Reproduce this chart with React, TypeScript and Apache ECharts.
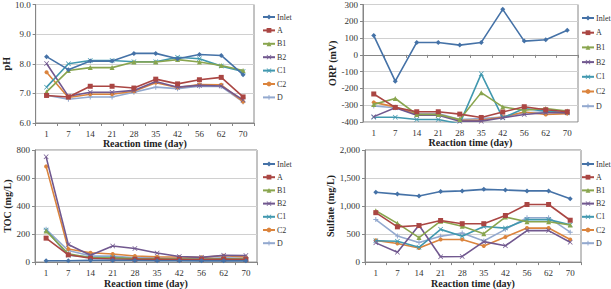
import React, { useEffect, useRef } from "react";
import * as echarts from "echarts";

// Sampling days shared by all four panels
const days = ["1", "7", "14", "21", "28", "35", "42", "56", "62", "70"];
const seriesNames = ["Inlet", "A", "B1", "B2", "C1", "C2", "D"];

// pH
const phInlet = [8.24, 7.8, 8.09, 8.09, 8.35, 8.35, 8.17, 8.31, 8.28, 7.63];
const phA = [6.93, 6.88, 7.24, 7.24, 7.18, 7.48, 7.32, 7.46, 7.54, 6.88];
const phB1 = [7.05, 7.77, 7.87, 7.87, 8.06, 8.06, 8.14, 8.06, 7.94, 7.77];
const phB2 = [8.01, 6.9, 7.04, 7.04, 7.1, 7.4, 7.21, 7.27, 7.25, 6.78];
const phC1 = [7.21, 8.0, 8.11, 8.11, 8.07, 8.07, 8.22, 8.17, 7.92, 7.74];
const phC2 = [7.71, 6.86, 6.97, 6.97, 7.07, 7.36, 7.2, 7.3, 7.29, 6.72];
const phD = [6.94, 6.8, 6.88, 6.88, 7.04, 7.21, 7.16, 7.24, 7.23, 6.71];

// ORP (mV)
const orpInlet = [115, -157, 74, 74, 58, 74, 271, 82, 90, 147];
const orpA = [-233, -313, -339, -339, -353, -373, -341, -309, -327, -339];
const orpB1 = [-295, -260, -355, -355, -385, -225, -310, -330, -320, -335];
const orpB2 = [-368, -315, -360, -360, -395, -395, -375, -355, -345, -345];
const orpC1 = [-372, -372, -385, -385, -410, -113, -375, -320, -335, -345];
const orpC2 = [-283, -310, -355, -355, -390, -390, -370, -340, -355, -350];
const orpD = [-305, -315, -350, -350, -385, -380, -370, -345, -340, -345];

// TOC (mg/L)
const tocInlet = [10, 10, 12, 12, 11, 10, 10, 9, 10, 9];
const tocA = [171, 52, 27, 22, 20, 20, 19, 18, 20, 18];
const tocB1 = [222, 60, 31, 30, 25, 24, 22, 20, 24, 22];
const tocB2 = [751, 126, 49, 115, 97, 65, 40, 34, 49, 47];
const tocC1 = [229, 49, 36, 34, 22, 20, 20, 18, 22, 20];
const tocC2 = [683, 94, 67, 58, 43, 38, 36, 34, 45, 36];
const tocD = [234, 83, 45, 43, 31, 31, 27, 25, 31, 27];

// Sulfate (mg/L)
const so4Inlet = [1247, 1213, 1180, 1258, 1270, 1298, 1286, 1270, 1270, 1129];
const so4A = [882, 629, 652, 742, 685, 685, 831, 1028, 1028, 747];
const so4B1 = [916, 691, 438, 730, 640, 506, 803, 719, 719, 663];
const so4B2 = [343, 174, 657, 96, 101, 365, 292, 562, 562, 354];
const so4C1 = [382, 371, 264, 584, 461, 635, 607, 758, 758, 668];
const so4C2 = [388, 331, 253, 404, 404, 287, 449, 607, 607, 404];
const so4D = [758, 466, 348, 461, 517, 376, 584, 792, 792, 534];

const colors = ["#4572A7", "#AA4643", "#89A54E", "#71588F", "#4198AF", "#DB843D", "#93A9CF"];
const crossMark = "path://M1,0L5,4L9,0L10,1L6,5L10,9L9,10L5,6L1,10L0,9L4,5L0,1Z";
const plusMark = "path://M4,0H6V4H10V6H6V10H4V6H0V4H4Z";
const symbols = ["diamond", "rect", "triangle", crossMark, crossMark, "circle", plusMark];

const FONT = "Liberation Serif";

const panels = [
  {
    name: "pH",
    data: [phInlet, phA, phB1, phB2, phC1, phC2, phD],
    min: 6, max: 10, interval: 1,
    fmt: (v: number) => v.toFixed(1),
    grid: { left: 34, top: 3, width: 220, height: 120 },
    legend: { left: 262, top: 12 },
    legendGap: 3.4,
    nameGap: 22,
  },
  {
    name: "ORP (mV)",
    data: [orpInlet, orpA, orpB1, orpB2, orpC1, orpC2, orpD],
    min: -400, max: 300, interval: 100,
    fmt: (v: number) => String(v),
    grid: { left: 363, top: 4, width: 215, height: 118 },
    legend: { left: 581, top: 13 },
    legendGap: 4.7,
    nameGap: 22,
  },
  {
    name: "TOC (mg/L)",
    data: [tocInlet, tocA, tocB1, tocB2, tocC1, tocC2, tocD],
    min: 0, max: 800, interval: 200,
    fmt: (v: number) => String(v),
    grid: { left: 35, top: 150, width: 222, height: 118 },
    legend: { left: 262, top: 159 },
    legendGap: 3.2,
    nameGap: 22,
  },
  {
    name: "Sulfate (mg/L)",
    data: [so4Inlet, so4A, so4B1, so4B2, so4C1, so4C2, so4D],
    min: 0, max: 2000, interval: 500,
    fmt: (v: number) => v.toLocaleString("en-US"),
    grid: { left: 365, top: 150, width: 216, height: 118 },
    legend: { left: 581, top: 159 },
    legendGap: 3.2,
    nameGap: 26,
  },
];

export default function App() {
  const ref = useRef<HTMLDivElement>(null);

  useEffect(() => {
    if (!ref.current) return;
    const chart = echarts.init(ref.current, null, { renderer: "svg" });

    const grid: any[] = [];
    const xAxis: any[] = [];
    const yAxis: any[] = [];
    const legend: any[] = [];
    const series: any[] = [];

    panels.forEach((p, i) => {
      grid.push({
        ...p.grid,
        show: true,
        borderColor: "#868686",
        borderWidth: 1,
        backgroundColor: "transparent",
      });
      xAxis.push({
        type: "category",
        gridIndex: i,
        data: days,
        boundaryGap: true,
        name: "Reaction time (day)",
        nameLocation: "middle",
        nameGap: i < 2 ? 14 : 15,
        nameTextStyle: { fontFamily: FONT, fontWeight: "bold", fontSize: 10, color: "#222" },
        axisLine: { lineStyle: { color: "#868686", width: 1 } },
        axisTick: { show: true, alignWithLabel: false, length: 3, lineStyle: { color: "#868686" } },
        axisLabel: { fontFamily: FONT, fontSize: 9, color: "#333", margin: 6, interval: 0 },
        splitLine: { show: false },
      });
      yAxis.push({
        type: "value",
        gridIndex: i,
        min: p.min,
        max: p.max,
        interval: p.interval,
        name: p.name,
        nameLocation: "middle",
        nameGap: p.nameGap,
        nameTextStyle: { fontFamily: FONT, fontWeight: "bold", fontSize: 10, color: "#222" },
        axisLine: { show: true, lineStyle: { color: "#868686", width: 1 } },
        axisTick: { show: true, length: 3, lineStyle: { color: "#868686" } },
        axisLabel: { fontFamily: FONT, fontSize: 9, color: "#333", margin: 5, formatter: p.fmt },
        splitLine: { show: true, lineStyle: { color: "#D0D0D0", width: 1 } },
      });
      legend.push({
        orient: "vertical",
        ...p.legend,
        data: seriesNames,
        itemWidth: 12,
        itemHeight: 6,
        itemGap: p.legendGap,
        padding: 0,
        textStyle: { fontFamily: FONT, fontSize: 8, lineHeight: 10, color: "#333", padding: [0, 0, 0, -3] },
        selectedMode: false,
      });
      p.data.forEach((vals, k) => {
        series.push({
          type: "line",
          name: seriesNames[k],
          xAxisIndex: i,
          yAxisIndex: i,
          data: vals,
          color: colors[k],
          symbol: symbols[k],
          symbolSize: k === 5 ? 4 : 5,
          showSymbol: true,
          lineStyle: { width: 1.6, color: colors[k] },
          itemStyle: { color: colors[k] },
          clip: true,
          z: 10 - k,
        });
      });
    });

    chart.setOption({
      animation: false,
      backgroundColor: "#ffffff",
      color: colors,
      grid,
      xAxis,
      yAxis,
      legend,
      series,
    });

    return () => chart.dispose();
  }, []);

  return (
    <div
      ref={ref}
      style={{ position: "absolute", left: 0, top: 0, width: 611, height: 289, background: "#fff" }}
    />
  );
}
